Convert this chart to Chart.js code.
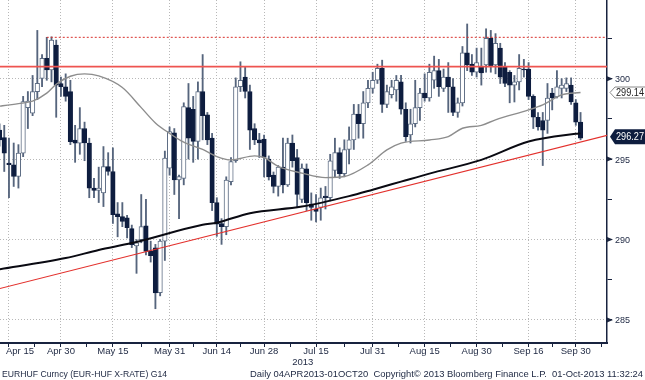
<!DOCTYPE html>
<html>
<head>
<meta charset="utf-8">
<script src="https://cdn.jsdelivr.net/npm/chart.js@4.4.0/dist/chart.umd.min.js"></script>
<style>
  html, body { margin: 0; padding: 0; background: #fff; }
  #wrap { width: 645px; height: 380px; }
</style>
</head>
<body>
<div id="wrap"><canvas id="fxChart" width="645" height="380"></canvas></div>
<script>
// trading-day index: 0 = 04 Apr 2013 ... 128 = 01 Oct 2013
// candles start at index 5 (11 Apr), the left part of the range is cut off
const firstDay = 5;

const candleOpen = [
  296.8, 296.34, 294.75, 294.64, 293.92, 295.37, 298.2, 297.85, 299.19, 300.02,
  301.27, 300.54, 302.09, 299.7, 299.5, 299.19, 296.19, 295.99, 296.9, 296.0,
  293.2, 293.05, 292.9, 294.54, 294.23, 291.6, 291.43, 291.35, 290.68, 289.6,
  289.99, 290.85, 289.3, 289.48, 286.7, 289.9, 294.44, 296.63, 293.71, 293.8,
  298.2, 298.1, 296.1, 299.2, 297.75, 296.3, 292.3, 291.0, 290.8, 293.6,
  294.9, 299.5, 300.1, 299.2, 296.9, 296.2, 296.25, 295.0, 294.0, 293.3,
  294.5, 293.4, 296.0, 295.1, 292.5, 294.4, 292.2, 291.9, 292.0, 292.7,
  292.6, 294.3, 295.4, 294.1, 295.6, 296.2, 297.8, 297.2, 298.5, 299.4,
  299.9, 300.65, 298.4, 299.0, 299.3, 299.8, 298.1, 296.5, 297.2, 298.2,
  299.1, 298.8, 299.9, 300.5, 299.4, 300.1, 299.5, 297.9, 298.5, 301.6,
  300.9, 300.4, 300.7, 300.85, 302.5, 300.85, 301.9, 300.7, 300.4, 299.6,
  299.8, 300.6, 300.6, 298.9, 297.6, 297.4, 297.4, 299.1, 298.86, 299.4,
  299.4, 299.6, 298.5, 297.3
];
const candleHigh = [
  297.2, 297.1, 296.3, 296.0, 295.9, 298.9, 299.2, 300.2, 303.0, 301.5,
  302.57, 302.6, 302.4, 300.1, 300.3, 299.9, 297.1, 298.2, 297.3, 296.3,
  293.8, 294.5, 295.78, 295.4, 295.7, 292.3, 292.3, 291.5, 290.9, 290.0,
  292.8, 292.5, 289.9, 289.7, 290.0, 295.5, 297.0, 296.9, 294.0, 298.5,
  299.7, 298.9, 299.8, 301.5, 297.9, 296.6, 292.6, 291.3, 293.9, 295.1,
  300.05, 301.05, 300.7, 299.6, 297.2, 296.6, 296.5, 295.2, 294.2, 294.6,
  296.3, 296.3, 296.5, 295.6, 294.7, 294.7, 292.9, 292.8, 293.2, 293.3,
  295.3, 296.3, 295.7, 296.2, 297.0, 298.4, 298.4, 299.2, 299.9, 300.4,
  300.9, 301.15, 299.6, 299.9, 300.2, 300.2, 298.5, 298.1, 299.9, 299.4,
  300.3, 300.9, 301.4, 301.2, 300.6, 301.0, 300.0, 298.8, 302.0, 303.4,
  301.5, 301.9, 301.9, 303.1, 303.0, 302.8, 302.2, 301.0, 300.5, 300.2,
  301.5, 301.2, 301.0, 299.0, 297.9, 297.9, 299.7, 299.4, 300.5, 300.0,
  300.05, 300.05, 298.7, 297.9
];
const candleLow = [
  295.8, 294.23, 292.6, 293.3, 293.2, 295.15, 296.9, 297.7, 298.7, 299.5,
  299.9, 299.8, 297.6, 298.9, 298.6, 295.9, 294.8, 295.3, 294.9, 292.6,
  292.6, 292.3, 292.05, 294.0, 291.0, 290.17, 290.8, 290.1, 289.5, 287.9,
  289.8, 289.05, 288.6, 285.7, 286.5, 288.7, 294.0, 292.8, 291.3, 293.4,
  295.0, 294.8, 295.0, 296.2, 295.9, 291.8, 290.2, 289.7, 290.3, 293.4,
  294.8, 299.2, 298.8, 295.6, 295.9, 295.1, 293.9, 293.7, 292.9, 292.7,
  292.9, 293.3, 294.5, 292.0, 292.3, 291.8, 291.2, 291.1, 291.2, 291.9,
  292.4, 293.9, 293.8, 293.9, 294.7, 295.6, 296.3, 296.3, 298.2, 299.1,
  299.7, 297.9, 298.2, 298.8, 298.6, 297.8, 296.1, 296.0, 297.0, 297.4,
  298.6, 298.6, 299.4, 298.9, 299.2, 297.9, 297.7, 297.6, 298.3, 300.5,
  300.2, 300.1, 299.6, 300.4, 300.4, 300.3, 299.7, 299.5, 298.5, 298.55,
  299.3, 300.1, 298.7, 296.9, 296.8, 294.6, 296.6, 298.06, 298.8, 298.8,
  299.2, 298.4, 297.1, 296.2
];
const candleClose = [
  296.2, 295.37, 294.65, 293.92, 295.37, 298.57, 298.6, 299.19, 299.71, 301.27,
  300.54, 302.4, 299.6, 299.5, 298.9, 296.09, 295.99, 296.9, 296.0, 293.2,
  293.05, 293.2, 294.54, 294.23, 291.54, 291.43, 291.12, 290.74, 289.68, 289.8,
  290.8, 289.26, 289.0, 286.69, 289.9, 295.06, 296.71, 293.71, 293.92, 298.26,
  296.3, 296.1, 299.19, 297.7, 296.2, 292.3, 290.95, 290.8, 293.7, 294.85,
  299.5, 299.9, 299.2, 296.8, 296.2, 296.0, 295.1, 293.9, 293.3, 294.5,
  293.4, 296.0, 294.9, 292.8, 294.45, 292.3, 292.0, 291.75, 292.6, 292.6,
  294.9, 295.4, 294.1, 295.6, 296.2, 297.8, 297.2, 298.5, 299.4, 299.9,
  300.65, 298.4, 299.2, 299.5, 299.9, 298.1, 296.4, 297.2, 298.2, 299.1,
  298.8, 300.4, 300.5, 299.5, 300.1, 299.5, 297.9, 298.5, 301.6, 300.85,
  300.4, 301.0, 300.35, 302.5, 300.75, 302.2, 300.1, 299.7, 299.6, 299.8,
  300.65, 300.55, 298.9, 297.6, 297.0, 296.8, 298.8, 298.8, 299.5, 299.6,
  299.7, 298.55, 297.3, 296.3
];

// moving averages read at a few dates
const grayMaDays = [4, 9, 12, 15, 17, 20, 23, 26, 31, 35, 38, 41, 44, 48, 51, 54, 59, 61, 64, 69, 74, 78, 83, 87, 90, 96, 100, 103, 107, 110, 117, 120, 124, 128];
const grayMaValues = [298.25, 298.45, 298.6, 299.1, 299.65, 300.15, 300.3, 300.17, 299.45, 298.2, 297.25, 296.6, 296.05, 295.6, 295.16, 294.95, 295.2, 295.1, 294.55, 294.13, 293.85, 293.92, 294.64, 295.57, 295.99, 296.19, 296.4, 296.92, 297.1, 297.44, 298.06, 298.37, 298.99, 299.14];
const blackMaDays = [4, 19, 26, 33, 48, 51, 58, 69, 79, 84, 90, 96, 107, 117, 127, 128];
const blackMaValues = [288.1, 288.85, 289.35, 289.78, 290.92, 291.05, 291.64, 292.05, 292.7, 293.1, 293.6, 294.1, 294.95, 296.09, 296.57, 296.6];

// drawn levels
const trendDays = [5, 134];
const trendValues = [286.95, 296.5];
const resistanceDays = [5, 134];
const resistanceLevel = 300.75;
const topDays = [15, 134];
const topLevel = 302.57;

const lastGrayMa = 299.14;
const lastTagValue = 296.27;

// axes
const xMin = 5.1, xMax = 133.6;
const yMin = 283.57, yMax = 304.89;
const xTickDays = [7, 18, 29, 41, 51, 61, 72, 84, 95, 106, 117, 127];
const xTickLabels = ['Apr 15', 'Apr 30', 'May 15', 'May 31', 'Jun 14', 'Jun 28', 'Jul 15', 'Jul 31', 'Aug 15', 'Aug 30', 'Sep 16', 'Sep 30'];
const xMinorDays = [12.5, 23.5, 35, 46, 56, 66.5, 78, 89.5, 100.5, 111.5, 122, 132.5];
const yMajor = [285, 290, 295, 300];
const yMinor = [287.5, 292.5, 297.5, 302.5];
const yearLabel = '2013';
const yearLabelDay = 69.2;
const footerLeft = 'EURHUF Curncy (EUR-HUF X-RATE) G14';
const footerRight = 'Daily 04APR2013-01OCT20  Copyright\u00A9 2013 Bloomberg Finance L.P.  01-Oct-2013 11:32:24';

const navy = '#0e1d3f';
const hollowEdge = '#5f6e85';
const wickColor = '#56657d';
const axisColor = '#18233f';
const textColor = '#1c2640';
const gridColor = '#b8b8b8';

const days = candleOpen.map((_, k) => firstDay + k);
const isUp = days.map((_, k) => candleClose[k] >= candleOpen[k]);

const textPlugin = {
  id: 'bbgText',
  afterDraw(chart) {
    const { ctx, chartArea } = chart;
    const x = chart.scales.x, y = chart.scales.y;
    ctx.save();
    ctx.fillStyle = textColor;
    ctx.font = '9.5px "Liberation Sans", Arial, sans-serif';
    ctx.textBaseline = 'alphabetic';
    ctx.textAlign = 'center';
    xTickDays.forEach((d, k) => {
      const w = ctx.measureText(xTickLabels[k]).width;
      const cx = Math.max(x.getPixelForValue(d), chartArea.left + 6 + w / 2);
      ctx.fillText(xTickLabels[k], cx, chartArea.bottom + 11);
    });
    ctx.fillText(yearLabel, x.getPixelForValue(yearLabelDay), chartArea.bottom + 22);

    ctx.textAlign = 'left';
    ctx.font = '9px "Liberation Sans", Arial, sans-serif';
    yMajor.forEach(v => {
      const py = y.getPixelForValue(v);
      ctx.fillText(String(v), chartArea.right + 8, py + 3.5);
      ctx.beginPath();
      ctx.moveTo(chartArea.right, py - 2.5);
      ctx.lineTo(chartArea.right + 6, py);
      ctx.lineTo(chartArea.right, py + 2.5);
      ctx.closePath();
      ctx.fill();
    });

    ctx.font = '9.5px "Liberation Sans", Arial, sans-serif';
    ctx.fillText(footerLeft, 2, 377, 165);
    ctx.fillText(footerRight, 250, 377, 393);

    // value tags on the right axis
    const tag = (value, fill, stroke, color, h, dy) => {
      const py = y.getPixelForValue(value) + dy;
      const x0 = chartArea.right + 3;
      ctx.beginPath();
      ctx.moveTo(x0, py);
      ctx.lineTo(x0 + 5, py - h / 2);
      ctx.lineTo(chart.width + 2, py - h / 2);
      ctx.lineTo(chart.width + 2, py + h / 2);
      ctx.lineTo(x0 + 5, py + h / 2);
      ctx.closePath();
      ctx.fillStyle = fill;
      ctx.fill();
      if (stroke) { ctx.strokeStyle = stroke; ctx.lineWidth = 1; ctx.stroke(); }
      ctx.fillStyle = color;
      ctx.font = '10px "Liberation Sans", Arial, sans-serif';
      ctx.fillText(value.toFixed(2), x0 + 6, py + 3.5, chart.width - x0 - 7);
    };
    tag(lastGrayMa, '#ffffff', '#8a8a8a', '#222', 11, 0);
    tag(lastTagValue, navy, null, '#ffffff', 15, -2);
    ctx.restore();
  }
};

const ctx = document.getElementById('fxChart').getContext('2d');
const chart = new Chart(ctx, {
  type: 'bar',
  data: {
    datasets: [
      {
        type: 'line', label: 'trend',
        data: trendDays.map((d, k) => ({ x: d, y: trendValues[k] })),
        borderColor: '#e3302c', borderWidth: 1.2, pointRadius: 0, clip: 0, order: 0
      },
      {
        type: 'line', label: 'resistance',
        data: resistanceDays.map(d => ({ x: d, y: resistanceLevel })),
        borderColor: '#ee5450', borderWidth: 1.8, pointRadius: 0, clip: 0, order: 0
      },
      {
        type: 'line', label: 'top',
        data: topDays.map(d => ({ x: d, y: topLevel })),
        borderColor: '#d9302c', borderWidth: 1, borderDash: [2, 2], pointRadius: 0, clip: 0, order: 0
      },
      {
        type: 'line', label: 'MA long',
        data: blackMaDays.map((d, k) => ({ x: d, y: blackMaValues[k] })),
        borderColor: '#0a0a12', borderWidth: 2, pointRadius: 0,
        cubicInterpolationMode: 'monotone', clip: 0, order: 0
      },
      {
        type: 'line', label: 'MA short',
        data: grayMaDays.map((d, k) => ({ x: d, y: grayMaValues[k] })),
        borderColor: '#8d8d8d', borderWidth: 1.4, pointRadius: 0,
        cubicInterpolationMode: 'monotone', clip: 0, order: 0
      },
      {
        label: 'body',
        data: days.map((d, k) => ({ x: d, y: [candleOpen[k], candleClose[k]] })),
        backgroundColor: isUp.map(u => u ? '#ffffff' : navy),
        borderColor: isUp.map(u => u ? hollowEdge : navy),
        borderWidth: 1, borderSkipped: false,
        barThickness: 4.5, grouped: false, order: 1
      },
      {
        label: 'wick',
        data: days.map((d, k) => ({ x: d, y: [candleLow[k], candleHigh[k]] })),
        backgroundColor: wickColor, borderWidth: 0,
        barThickness: 1.2, grouped: false, order: 2
      }
    ]
  },
  options: {
    responsive: false,
    devicePixelRatio: 1,
    animation: false,
    layout: { padding: 0 },
    plugins: { legend: { display: false }, tooltip: { enabled: false } },
    scales: {
      x: {
        type: 'linear', min: xMin, max: xMax, offset: false,
        afterBuildTicks: s => { s.ticks = xTickDays.concat(xMinorDays).sort((a, b) => a - b).map(v => ({ value: v })); },
        afterFit: s => { s.height = 37; },
        ticks: { display: false },
        grid: {
          offset: false,
          color: c => (c.tick && xTickDays.includes(c.tick.value)) ? gridColor : 'rgba(0,0,0,0)',
          tickColor: axisColor, tickLength: 4, lineWidth: 1
        },
        border: { color: axisColor, width: 2, dash: [1, 2] }
      },
      y: {
        type: 'linear', position: 'right', min: yMin, max: yMax,
        afterBuildTicks: s => { s.ticks = yMajor.concat(yMinor).sort((a, b) => a - b).map(v => ({ value: v })); },
        afterFit: s => { s.width = 38; },
        ticks: { display: false },
        grid: {
          color: c => (c.tick && yMajor.includes(c.tick.value)) ? gridColor : 'rgba(0,0,0,0)',
          tickColor: axisColor, tickLength: 5, lineWidth: 1
        },
        border: { color: axisColor, width: 1.5, dash: [1, 2] }
      }
    }
  },
  plugins: [textPlugin]
});
</script>
</body>
</html>
